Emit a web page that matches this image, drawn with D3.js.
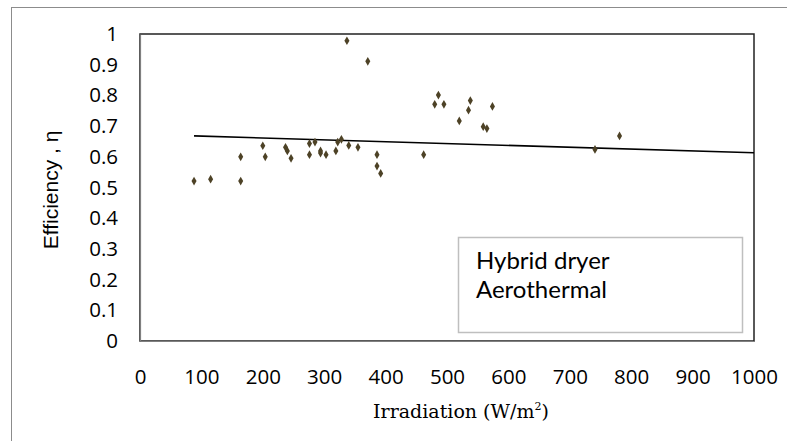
<!DOCTYPE html>
<html><head><meta charset="utf-8">
<script src="https://cdn.jsdelivr.net/npm/d3@7"></script>
<style>body{margin:0;background:#fff}svg{display:block}</style>
</head><body>
<svg id="c" width="787" height="441"></svg>
<script>
const irradiation = [88,115,164,164,200,204,237,240,246,276,285,276,294,294,303,319,322,328,337,340,355,371,386,386,392,462,480,486,495,520,535,538,559,565,574,741,781];
const efficiency  = [0.521,0.527,0.521,0.600,0.636,0.600,0.631,0.619,0.595,0.643,0.648,0.607,0.619,0.612,0.607,0.619,0.648,0.657,0.978,0.637,0.631,0.911,0.607,0.570,0.546,0.607,0.771,0.801,0.771,0.717,0.752,0.783,0.698,0.692,0.764,0.624,0.668];
const trendX = [88,1000];
const trendY = [0.668,0.613];
const xTicks = [0,100,200,300,400,500,600,700,800,900,1000];
const yTicks = [0,0.1,0.2,0.3,0.4,0.5,0.6,0.7,0.8,0.9,1];
const legendLines = ["Hybrid dryer","Aerothermal"];

const svg = d3.select("#c");
const L=140,R=754,T=34,B=341;
const x = d3.scaleLinear().domain([0,1000]).range([L,R]);
const y = d3.scaleLinear().domain([0,1]).range([B,T]);

// outer frame
svg.append("rect").attr("x",11.5).attr("y",7.5).attr("width",800).attr("height",500)
  .attr("fill","none").attr("stroke","#8c8c8c").attr("stroke-width",1);

// plot border
svg.append("rect").attr("x",L).attr("y",T).attr("width",R-L).attr("height",B-T)
  .attr("fill","none").attr("stroke","#222").attr("stroke-width",1.5);

const tickFont = "'Open Sans', sans-serif";
// y axis
const ya = svg.append("g").attr("transform",`translate(${L},0)`)
  .call(d3.axisLeft(y).tickValues(yTicks).tickSize(0).tickPadding(22).tickFormat(d=>d3.format("")(+d.toFixed(1))));
ya.select(".domain").attr("stroke","#808080").attr("stroke-width",1.2);
ya.selectAll("text").attr("font-family",tickFont).attr("font-size",20.5).attr("fill","#000");
// x axis
const xa = svg.append("g").attr("transform",`translate(0,${B})`)
  .call(d3.axisBottom(x).tickValues(xTicks).tickSize(0).tickPadding(28).tickFormat(d3.format("d")));
xa.select(".domain").attr("stroke","#808080").attr("stroke-width",1.2);
xa.selectAll("text").attr("font-family",tickFont).attr("font-size",20.5).attr("fill","#000");

// trend line
svg.append("line").attr("x1",x(trendX[0])).attr("y1",y(trendY[0])).attr("x2",x(trendX[1])).attr("y2",y(trendY[1]))
  .attr("stroke","#000").attr("stroke-width",1.6);

// points
svg.append("g").selectAll("path").data(irradiation).join("path")
  .attr("transform",(d,i)=>`translate(${x(d)},${y(efficiency[i])})`)
  .attr("d",d3.symbol(d3.symbolDiamond,22))
  .attr("fill","#4d4226");

// legend box
svg.append("rect").attr("x",458.5).attr("y",237.5).attr("width",284).attr("height",95)
  .attr("fill","#fff").attr("stroke","#bfbfbf").attr("stroke-width",1.5);
svg.append("g").selectAll("text").data(legendLines).join("text")
  .attr("x",476).attr("y",(d,i)=>269+i*29).text(d=>d)
  .attr("font-family","Lato, sans-serif").attr("font-size",24).attr("fill","#000");

// axis titles
svg.append("text").attr("transform","translate(58,190) rotate(-90)").attr("text-anchor","middle")
  .attr("font-family","'Liberation Sans', Arial, sans-serif").attr("font-size",21).text("Efficiency , η");
const xt = svg.append("text").attr("x",461).attr("y",418).attr("text-anchor","middle")
  .attr("font-family","'DejaVu Serif', serif").attr("font-size",19);
xt.append("tspan").text("Irradiation (W/m");
xt.append("tspan").attr("font-size",11).attr("dy",-8).text("2");
xt.append("tspan").attr("dy",8).text(")");
</script>
</body></html>
